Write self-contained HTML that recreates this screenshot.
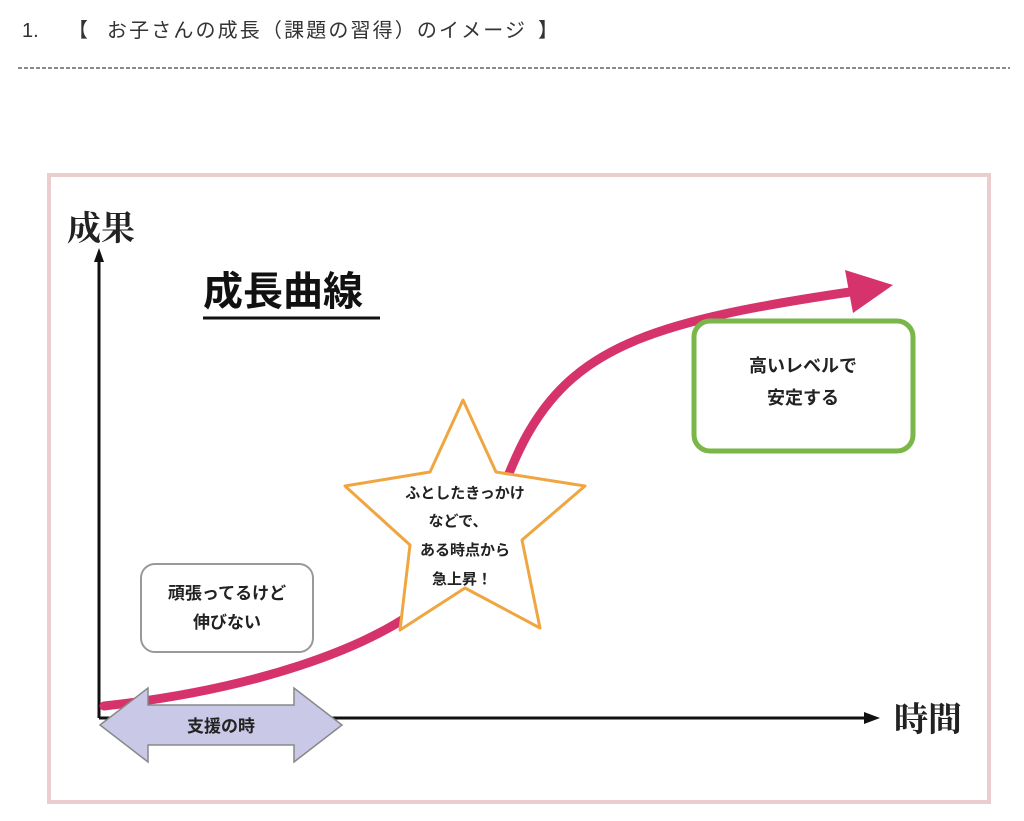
<!DOCTYPE html>
<html><head><meta charset="utf-8"><style>
body{margin:0;width:1024px;height:821px;background:#fff;overflow:hidden;font-family:"Liberation Sans","Noto Sans CJK JP",sans-serif}
</style></head><body>
<svg width="1024" height="821" xmlns="http://www.w3.org/2000/svg" style="position:absolute;left:0;top:0">
<g font-size="20" fill="#333" font-family="Liberation Sans,Noto Sans CJK JP,sans-serif">
<text x="22" y="37">1.</text>
<text x="68" y="37">【</text>
<text x="107" y="37" textLength="418" lengthAdjust="spacing">お子さんの成長（課題の習得）のイメージ</text>
<text x="538" y="37">】</text>
</g>
<line x1="18" y1="68" x2="1010" y2="68" stroke="#444" stroke-width="1.2" stroke-dasharray="4,2"/>
<rect x="49" y="175" width="940" height="627" fill="#fff" stroke="#ebcdd0" stroke-width="4"/>
<text x="67" y="240" font-size="34" font-weight="bold" fill="#222" font-family="Liberation Serif,Noto Serif CJK SC,serif">成果</text>
<text x="203" y="305" font-size="40" font-weight="bold" fill="#111" font-family="Liberation Sans,Noto Sans CJK JP,sans-serif">成長曲線</text>
<line x1="203" y1="318" x2="380" y2="318" stroke="#111" stroke-width="3"/>
<line x1="99" y1="718" x2="99" y2="258" stroke="#111" stroke-width="3"/>
<polygon points="99,248 94,262 104,262" fill="#111"/>
<line x1="99" y1="718" x2="866" y2="718" stroke="#111" stroke-width="3"/>
<polygon points="880,718 864,712 864,724" fill="#111"/>
<text x="894" y="731" font-size="34" font-weight="bold" fill="#222" font-family="Liberation Serif,Noto Serif CJK SC,serif">時間</text>
<path d="M104,706 C250,690 370,650 430,600 C490,550 500,480 530,430 C580,345 660,320 850,292" fill="none" stroke="#d6336c" stroke-width="9" stroke-linecap="round"/>
<polygon points="893,285 845,270 853,313" fill="#d6336c"/>
<polygon points="463,400 496,472 585,486 522,540 540,628 465,588 400,630 410,545 345,486 430,472" fill="#fff" stroke="#f0a640" stroke-width="3" stroke-linejoin="round"/>
<g font-size="15" font-weight="bold" fill="#222" text-anchor="middle">
<text x="465" y="498">ふとしたきっかけ</text>
<text x="458" y="526">などで、</text>
<text x="465" y="555">ある時点から</text>
<text x="462" y="584">急上昇！</text>
</g>
<rect x="694" y="321" width="219" height="130" rx="16" fill="#fff" stroke="#7ab648" stroke-width="5"/>
<g font-size="18" font-weight="bold" fill="#222" text-anchor="middle">
<text x="803" y="372">高いレベルで</text>
<text x="803" y="404">安定する</text>
</g>
<rect x="141" y="564" width="172" height="88" rx="14" fill="#fff" stroke="#999" stroke-width="2"/>
<g font-size="17" font-weight="bold" fill="#222" text-anchor="middle">
<text x="227" y="599">頑張ってるけど</text>
<text x="227" y="628">伸びない</text>
</g>
<polygon points="100,725 148,688 148,705 294,705 294,688 342,725 294,762 294,745 148,745 148,762" fill="#c9c8e6" stroke="#888" stroke-width="1.5"/>
<text x="221" y="732" font-size="17" font-weight="bold" fill="#222" text-anchor="middle">支援の時</text>
</svg>
</body></html>
